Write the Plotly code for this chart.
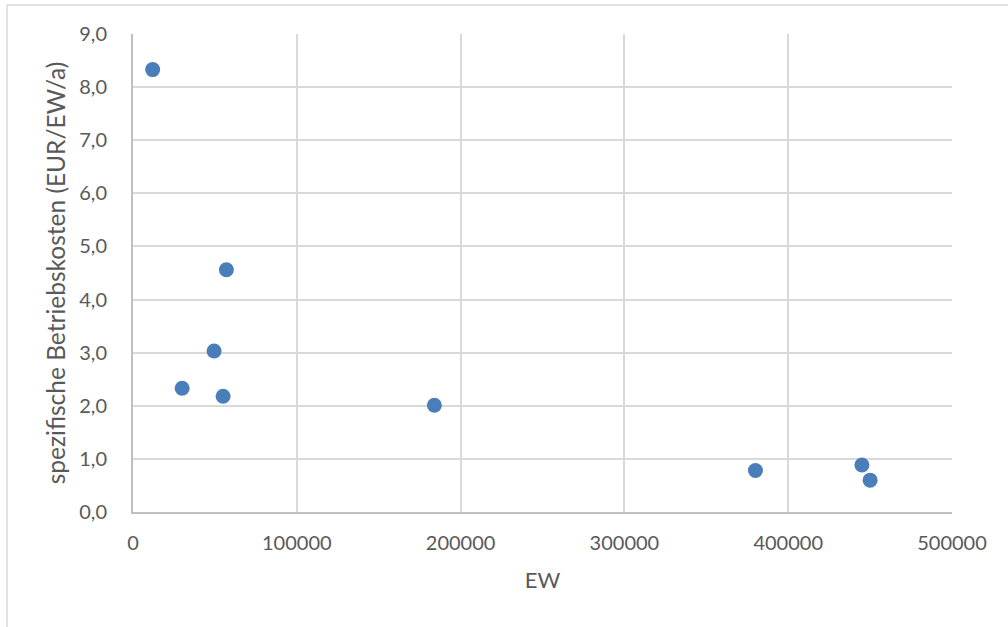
import plotly.graph_objects as go

# Einwohnerwerte (EW) und spezifische Betriebskosten je Anlage
ew = [12000, 30000, 49500, 55000, 57000, 184000, 380000, 445000, 450000]
kosten = [8.33, 2.33, 3.03, 2.18, 4.56, 2.01, 0.78, 0.885, 0.60]

x_ticks = [0, 100000, 200000, 300000, 400000, 500000]
y_ticks = [0, 1, 2, 3, 4, 5, 6, 7, 8, 9]

font_family = "Lato, 'Open Sans', sans-serif"
text_color = "#595959"
grid_color = "#d9d9d9"
axis_color = "#bfbfbf"

fig = go.Figure(
    go.Scatter(
        x=ew,
        y=kosten,
        mode="markers",
        marker=dict(size=15, color="#4A7EBB", line=dict(width=0)),
        showlegend=False,
        cliponaxis=False,
    )
)

fig.update_layout(
    width=1008,
    height=627,
    margin=dict(l=133, r=56, t=34, b=115),
    paper_bgcolor="white",
    plot_bgcolor="white",
    separators=",.",
    font=dict(family=font_family, size=20, color=text_color),
    xaxis=dict(
        range=[0, 500000],
        tickvals=x_ticks,
        tickformat="d",
        showgrid=True,
        gridcolor=grid_color,
        gridwidth=1.5,
        showline=True,
        linecolor=axis_color,
        linewidth=2,
        zeroline=False,
        ticks="",
        ticklabelstandoff=12,
        title=dict(text="EW", standoff=20, font=dict(size=22, color=text_color)),
    ),
    yaxis=dict(
        range=[0, 9],
        tickvals=y_ticks,
        tickformat=".1f",
        showgrid=True,
        gridcolor=grid_color,
        gridwidth=1.5,
        showline=True,
        linecolor=axis_color,
        linewidth=2,
        zeroline=False,
        ticks="",
        ticklabelstandoff=20,
        title=dict(
            text="spezifische Betriebskosten (EUR/EW/a)",
            standoff=7,
            font=dict(size=24.5, color=text_color),
        ),
    ),
    shapes=[
        # chart frame (left and top edges)
        dict(type="line", xref="paper", yref="paper",
             x0=-0.1538, x1=-0.1538, y0=1.0607, y1=-0.25,
             line=dict(color=grid_color, width=1.5)),
        dict(type="line", xref="paper", yref="paper",
             x0=-0.1538, x1=1.08, y0=1.0607, y1=1.0607,
             line=dict(color=grid_color, width=1.5)),
    ],
)

fig.write_html("out.html")
